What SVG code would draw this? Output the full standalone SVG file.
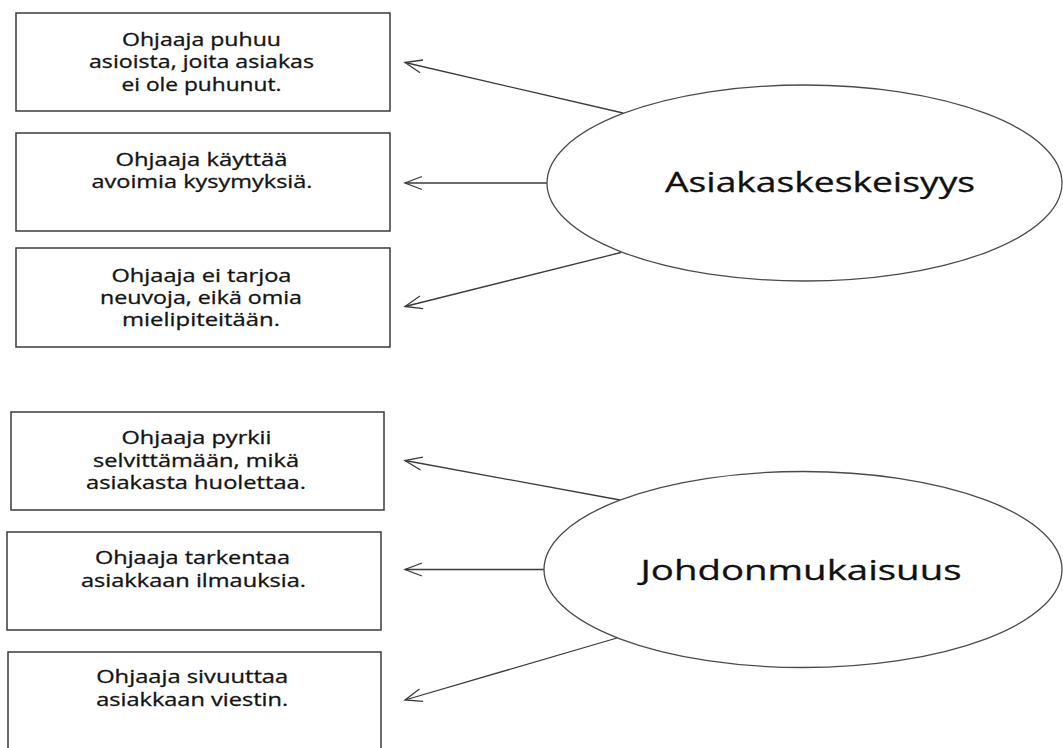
<svg xmlns="http://www.w3.org/2000/svg" width="1063" height="748" viewBox="0 0 1063 748">
<style>
.box{fill:#fff;stroke:#3a3a3a;stroke-width:1.5}
.ell{fill:#fff;stroke:#4a4a4a;stroke-width:1.3}
.conn{stroke:#3a3a3a;stroke-width:1.3;fill:none;marker-end:url(#arr)}
.t{font-family:"Open Sans","Liberation Sans",sans-serif;font-size:18px;fill:#141414;stroke:#141414;stroke-width:0.3;text-anchor:middle}
.big{font-family:"Open Sans","Liberation Sans",sans-serif;font-size:28px;fill:#111;stroke:#111;stroke-width:0.3;text-anchor:middle}
</style>
<defs>
<marker id="arr" viewBox="-19 -8 21 16" refX="0" refY="0" markerWidth="21" markerHeight="16" markerUnits="userSpaceOnUse" orient="auto">
<path d="M-17,-6.5 L0,0 L-17,6.5" fill="none" stroke="#3a3a3a" stroke-width="1.3"/>
</marker>
</defs>
<rect width="1063" height="748" fill="#fff"/>
<g id="connectors">
<line class="conn" x1="623" y1="113" x2="405" y2="62.5"/>
<line class="conn" x1="547" y1="183" x2="405" y2="183"/>
<line class="conn" x1="621" y1="252.5" x2="405" y2="306.5"/>
<line class="conn" x1="620" y1="500" x2="405" y2="460.5"/>
<line class="conn" x1="544" y1="569.5" x2="405" y2="569.5"/>
<line class="conn" x1="617" y1="638" x2="405" y2="700"/>
</g>
<g id="asiakaskeskeisyys">
<ellipse class="ell" cx="804.5" cy="183" rx="257.5" ry="98"/>
<text class="big" x="820" y="192" textLength="310" lengthAdjust="spacingAndGlyphs">Asiakaskeskeisyys</text>
</g>
<g id="johdonmukaisuus">
<ellipse class="ell" cx="803" cy="569.5" rx="259" ry="98"/>
<text class="big" x="801" y="579.5" textLength="321" lengthAdjust="spacingAndGlyphs">Johdonmukaisuus</text>
</g>
<g id="box1">
<rect class="box" x="16" y="13" width="374" height="98"/>
<text class="t" x="201.5" y="45.7" textLength="159" lengthAdjust="spacingAndGlyphs">Ohjaaja puhuu</text>
<text class="t" x="201.5" y="68.3" textLength="225" lengthAdjust="spacingAndGlyphs">asioista, joita asiakas</text>
<text class="t" x="201.5" y="90.7" textLength="160" lengthAdjust="spacingAndGlyphs">ei ole puhunut.</text>
</g>
<g id="box2">
<rect class="box" x="16" y="133" width="374" height="98"/>
<text class="t" x="201.5" y="165.7" textLength="172" lengthAdjust="spacingAndGlyphs">Ohjaaja käyttää</text>
<text class="t" x="202" y="188.3" textLength="221" lengthAdjust="spacingAndGlyphs">avoimia kysymyksiä.</text>
</g>
<g id="box3">
<rect class="box" x="16" y="248" width="374" height="99"/>
<text class="t" x="201.5" y="281.7" textLength="180" lengthAdjust="spacingAndGlyphs">Ohjaaja ei tarjoa</text>
<text class="t" x="201" y="304" textLength="202" lengthAdjust="spacingAndGlyphs">neuvoja, eikä omia</text>
<text class="t" x="201" y="326.3" textLength="158" lengthAdjust="spacingAndGlyphs">mielipiteitään.</text>
</g>
<g id="box4">
<rect class="box" x="11" y="412" width="373" height="98"/>
<text class="t" x="196.5" y="444.3" textLength="150" lengthAdjust="spacingAndGlyphs">Ohjaaja pyrkii</text>
<text class="t" x="196" y="466.7" textLength="206" lengthAdjust="spacingAndGlyphs">selvittämään, mikä</text>
<text class="t" x="196" y="489" textLength="220" lengthAdjust="spacingAndGlyphs">asiakasta huolettaa.</text>
</g>
<g id="box5">
<rect class="box" x="7" y="532" width="374" height="98"/>
<text class="t" x="192.5" y="564.3" textLength="195" lengthAdjust="spacingAndGlyphs">Ohjaaja tarkentaa</text>
<text class="t" x="193.5" y="586.7" textLength="225" lengthAdjust="spacingAndGlyphs">asiakkaan ilmauksia.</text>
</g>
<g id="box6">
<rect class="box" x="8" y="652" width="373" height="98"/>
<text class="t" x="192.2" y="683.3" textLength="192" lengthAdjust="spacingAndGlyphs">Ohjaaja sivuuttaa</text>
<text class="t" x="192.2" y="706" textLength="192" lengthAdjust="spacingAndGlyphs">asiakkaan viestin.</text>
</g>
</svg>
